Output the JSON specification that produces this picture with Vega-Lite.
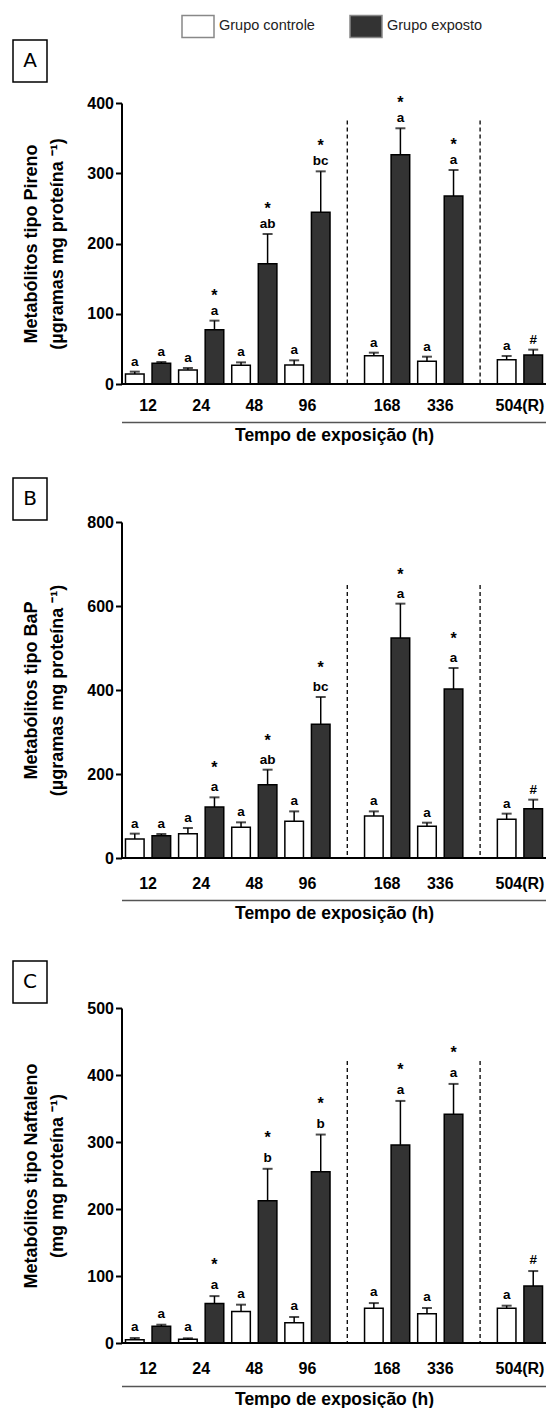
{
  "$schema": "https://vega.github.io/schema/vega-lite/v6.json",
  "padding": {"left": 12, "top": 9, "right": 0, "bottom": 0},
  "config": {
    "view": {"stroke": null},
    "font": "Liberation Sans",
    "axis": {"grid": false, "domainColor": "black", "tickColor": "black", "labelColor": "black", "titleColor": "black", "labelFont": "Liberation Sans", "titleFont": "Liberation Sans", "labelFontWeight": "bold", "titleFontWeight": "bold", "labelFontSize": 16}
  },
  "datasets": {
    "A": [
      {"slot": "12|c", "grupo": "Grupo controle", "media": 14.2, "sup": 17.6, "letra": "a", "sinal": ""},
      {"slot": "12|e", "grupo": "Grupo exposto", "media": 29.4, "sup": 31.3, "letra": "a", "sinal": ""},
      {"slot": "24|c", "grupo": "Grupo controle", "media": 19.9, "sup": 22.8, "letra": "a", "sinal": ""},
      {"slot": "24|e", "grupo": "Grupo exposto", "media": 77.3, "sup": 90.2, "letra": "a", "sinal": "*"},
      {"slot": "48|c", "grupo": "Grupo controle", "media": 26.6, "sup": 30.8, "letra": "a", "sinal": ""},
      {"slot": "48|e", "grupo": "Grupo exposto", "media": 171.3, "sup": 213.5, "letra": "ab", "sinal": "*"},
      {"slot": "96|c", "grupo": "Grupo controle", "media": 27, "sup": 33.7, "letra": "a", "sinal": ""},
      {"slot": "96|e", "grupo": "Grupo exposto", "media": 244.4, "sup": 302.7, "letra": "bc", "sinal": "*"},
      {"slot": "168|c", "grupo": "Grupo controle", "media": 40.3, "sup": 44.6, "letra": "a", "sinal": ""},
      {"slot": "168|e", "grupo": "Grupo exposto", "media": 326.5, "sup": 364, "letra": "a", "sinal": "*"},
      {"slot": "336|c", "grupo": "Grupo controle", "media": 32.3, "sup": 38.9, "letra": "a", "sinal": ""},
      {"slot": "336|e", "grupo": "Grupo exposto", "media": 267.6, "sup": 304.6, "letra": "a", "sinal": "*"},
      {"slot": "504(R)|c", "grupo": "Grupo controle", "media": 34.6, "sup": 39.9, "letra": "a", "sinal": ""},
      {"slot": "504(R)|e", "grupo": "Grupo exposto", "media": 41.3, "sup": 48.9, "letra": "#", "sinal": ""}
    ],
    "B": [
      {"slot": "12|c", "grupo": "Grupo controle", "media": 45.2, "sup": 58, "letra": "a", "sinal": ""},
      {"slot": "12|e", "grupo": "Grupo exposto", "media": 53.2, "sup": 57.1, "letra": "a", "sinal": ""},
      {"slot": "24|c", "grupo": "Grupo controle", "media": 58, "sup": 71.4, "letra": "a", "sinal": ""},
      {"slot": "24|e", "grupo": "Grupo exposto", "media": 121.4, "sup": 144.4, "letra": "a", "sinal": "*"},
      {"slot": "48|c", "grupo": "Grupo controle", "media": 73, "sup": 84.9, "letra": "a", "sinal": ""},
      {"slot": "48|e", "grupo": "Grupo exposto", "media": 174.6, "sup": 210.3, "letra": "ab", "sinal": "*"},
      {"slot": "96|c", "grupo": "Grupo controle", "media": 87.3, "sup": 111, "letra": "a", "sinal": ""},
      {"slot": "96|e", "grupo": "Grupo exposto", "media": 318.3, "sup": 383.3, "letra": "bc", "sinal": "*"},
      {"slot": "168|c", "grupo": "Grupo controle", "media": 100, "sup": 111, "letra": "a", "sinal": ""},
      {"slot": "168|e", "grupo": "Grupo exposto", "media": 523.8, "sup": 605.6, "letra": "a", "sinal": "*"},
      {"slot": "336|c", "grupo": "Grupo controle", "media": 75.4, "sup": 84.1, "letra": "a", "sinal": ""},
      {"slot": "336|e", "grupo": "Grupo exposto", "media": 402.4, "sup": 452.4, "letra": "a", "sinal": "*"},
      {"slot": "504(R)|c", "grupo": "Grupo controle", "media": 92, "sup": 105.6, "letra": "a", "sinal": ""},
      {"slot": "504(R)|e", "grupo": "Grupo exposto", "media": 117.5, "sup": 138.9, "letra": "#", "sinal": ""}
    ],
    "C": [
      {"slot": "12|c", "grupo": "Grupo controle", "media": 5, "sup": 7.5, "letra": "a", "sinal": ""},
      {"slot": "12|e", "grupo": "Grupo exposto", "media": 24.9, "sup": 27.3, "letra": "a", "sinal": ""},
      {"slot": "24|c", "grupo": "Grupo controle", "media": 5.5, "sup": 7, "letra": "a", "sinal": ""},
      {"slot": "24|e", "grupo": "Grupo exposto", "media": 59.1, "sup": 70, "letra": "a", "sinal": "*"},
      {"slot": "48|c", "grupo": "Grupo controle", "media": 47.2, "sup": 57.2, "letra": "a", "sinal": ""},
      {"slot": "48|e", "grupo": "Grupo exposto", "media": 212.2, "sup": 260, "letra": "b", "sinal": "*"},
      {"slot": "96|c", "grupo": "Grupo controle", "media": 30.3, "sup": 38.8, "letra": "a", "sinal": ""},
      {"slot": "96|e", "grupo": "Grupo exposto", "media": 255.5, "sup": 311.1, "letra": "b", "sinal": "*"},
      {"slot": "168|c", "grupo": "Grupo controle", "media": 51.7, "sup": 59.6, "letra": "a", "sinal": ""},
      {"slot": "168|e", "grupo": "Grupo exposto", "media": 295.7, "sup": 361.3, "letra": "a", "sinal": "*"},
      {"slot": "336|c", "grupo": "Grupo controle", "media": 43.7, "sup": 52.2, "letra": "a", "sinal": ""},
      {"slot": "336|e", "grupo": "Grupo exposto", "media": 341.4, "sup": 386.7, "letra": "a", "sinal": "*"},
      {"slot": "504(R)|c", "grupo": "Grupo controle", "media": 51.7, "sup": 55.7, "letra": "a", "sinal": ""},
      {"slot": "504(R)|e", "grupo": "Grupo exposto", "media": 85, "sup": 107.4, "letra": "#", "sinal": ""}
    ],
    "sepA": [{"slot": "s1", "topo": 375}, {"slot": "s2", "topo": 375}],
    "sepB": [{"slot": "s1", "topo": 650}, {"slot": "s2", "topo": 650}],
    "sepC": [{"slot": "s1", "topo": 421}, {"slot": "s2", "topo": 421}],
    "vazio": [{}]
  },
  "concat": [
    {
      "width": 34, "height": 42,
      "view": {"stroke": "black", "strokeWidth": 1.5},
      "data": {"values": [{"letra": "A"}]},
      "mark": {"type": "text", "font": "DejaVu Sans", "fontSize": 20, "baseline": "middle", "align": "center", "color": "black"},
      "encoding": {"text": {"field": "letra"}}
    },
    {"width": 1, "height": 62.3, "data": {"name": "vazio"}, "mark": "text", "encoding": {"text": {"value": ""}}},
    {"width": 1, "height": 374.7, "data": {"name": "vazio"}, "mark": "text", "encoding": {"text": {"value": ""}}},
    {
      "width": 425, "height": 281,
      "data": {"name": "A"},
      "layer": [
        {
          "mark": {"type": "bar", "stroke": "black", "strokeWidth": 1.5},
          "encoding": {
            "x": {"field": "slot", "type": "nominal", "sort": null,
              "scale": {"domain": ["12|c","12|e","24|c","24|e","48|c","48|e","96|c","96|e","s1","168|c","168|e","336|c","336|e","s2","504(R)|c","504(R)|e"], "paddingInner": 0.3, "paddingOuter": 0.15},
              "axis": {"title": "Tempo de exposição (h)", "orient": "bottom", "offset": 38, "domainColor": "#555", "domainWidth": 1.5, "ticks": false, "tickSize": 0, "labelPadding": -16.5, "labelBaseline": "middle", "labelAlign": "center", "labelOffset": 13.28, "labelAngle": 0, "labelOverlap": false, "labelExpr": "indexof(datum.value, '|c') > 0 ? split(datum.value, '|')[0] : ''", "titleFontSize": 17.5, "titlePadding": 4}},
            "y": {"field": "media", "type": "quantitative", "scale": {"domain": [0, 400], "nice": false},
              "axis": {"values": [0, 100, 200, 300, 400], "title": ["Metabólitos tipo Pireno", "(µgramas mg proteína ⁻¹)"], "titleFontSize": 18, "titleLineHeight": 26, "titlePadding": 20, "tickSize": 6, "tickWidth": 2, "domainWidth": 2, "labelPadding": 2}},
            "fill": {"field": "grupo", "type": "nominal", "scale": {"domain": ["Grupo controle", "Grupo exposto"], "range": ["white", "#333333"]},
              "legend": {"title": null, "orient": "none", "legendX": 168, "legendY": -31, "direction": "horizontal", "symbolType": "M-1,-0.69H1V0.69H-1Z", "symbolSize": 1024, "symbolStrokeColor": "#888", "symbolStrokeWidth": 1.5, "labelFont": "Liberation Sans", "labelFontSize": 14.5, "labelColor": "#222", "labelOffset": 4, "columnPadding": 32, "padding": 0}}
          }
        },
        {
          "mark": {"type": "rule", "color": "black", "strokeWidth": 2},
          "encoding": {"y": {"datum": 0, "scale": {"domain": [0, 400], "nice": false}}}
        },
        {
          "data": {"name": "sepA"},
          "mark": {"type": "rule", "color": "black", "strokeWidth": 1.3, "strokeDash": [4, 3]},
          "encoding": {
            "x": {"field": "slot", "type": "nominal", "sort": null, "scale": {"domain": ["12|c","12|e","24|c","24|e","48|c","48|e","96|c","96|e","s1","168|c","168|e","336|c","336|e","s2","504(R)|c","504(R)|e"], "paddingInner": 0.3, "paddingOuter": 0.15}},
            "y": {"field": "topo", "type": "quantitative", "scale": {"domain": [0, 400], "nice": false}},
            "y2": {"datum": 0}
          }
        },
        {
          "mark": {"type": "rule", "color": "black", "strokeWidth": 1.5},
          "encoding": {
            "x": {"field": "slot", "type": "nominal", "sort": null, "scale": {"domain": ["12|c","12|e","24|c","24|e","48|c","48|e","96|c","96|e","s1","168|c","168|e","336|c","336|e","s2","504(R)|c","504(R)|e"], "paddingInner": 0.3, "paddingOuter": 0.15}},
            "y": {"field": "sup", "type": "quantitative", "scale": {"domain": [0, 400], "nice": false}},
            "y2": {"field": "media"}
          }
        },
        {
          "mark": {"type": "tick", "color": "black", "thickness": 2, "size": 10},
          "encoding": {
            "x": {"field": "slot", "type": "nominal", "sort": null, "scale": {"domain": ["12|c","12|e","24|c","24|e","48|c","48|e","96|c","96|e","s1","168|c","168|e","336|c","336|e","s2","504(R)|c","504(R)|e"], "paddingInner": 0.3, "paddingOuter": 0.15}},
            "y": {"field": "sup", "type": "quantitative", "scale": {"domain": [0, 400], "nice": false}}
          }
        },
        {
          "mark": {"type": "text", "font": "Liberation Sans", "fontWeight": "bold", "fontSize": 13.5, "baseline": "alphabetic", "dy": -6, "color": "black"},
          "encoding": {
            "x": {"field": "slot", "type": "nominal", "sort": null, "scale": {"domain": ["12|c","12|e","24|c","24|e","48|c","48|e","96|c","96|e","s1","168|c","168|e","336|c","336|e","s2","504(R)|c","504(R)|e"], "paddingInner": 0.3, "paddingOuter": 0.15}},
            "y": {"field": "sup", "type": "quantitative", "scale": {"domain": [0, 400], "nice": false}},
            "text": {"field": "letra"}
          }
        },
        {
          "mark": {"type": "text", "font": "Liberation Sans", "fontWeight": "bold", "fontSize": 16, "baseline": "alphabetic", "dy": -20, "color": "black"},
          "encoding": {
            "x": {"field": "slot", "type": "nominal", "sort": null, "scale": {"domain": ["12|c","12|e","24|c","24|e","48|c","48|e","96|c","96|e","s1","168|c","168|e","336|c","336|e","s2","504(R)|c","504(R)|e"], "paddingInner": 0.3, "paddingOuter": 0.15}},
            "y": {"field": "sup", "type": "quantitative", "scale": {"domain": [0, 400], "nice": false}},
            "text": {"field": "sinal"}
          }
        }
      ]
    },
    {
      "width": 34, "height": 42,
      "view": {"stroke": "black", "strokeWidth": 1.5},
      "data": {"values": [{"letra": "B"}]},
      "mark": {"type": "text", "font": "DejaVu Sans", "fontSize": 20, "baseline": "middle", "align": "center", "color": "black"},
      "encoding": {"text": {"field": "letra"}}
    },
    {"width": 1, "height": 43.7, "data": {"name": "vazio"}, "mark": "text", "encoding": {"text": {"value": ""}}},
    {"width": 1, "height": 438.9, "data": {"name": "vazio"}, "mark": "text", "encoding": {"text": {"value": ""}}},
    {
      "width": 425, "height": 336,
      "data": {"name": "B"},
      "layer": [
        {
          "mark": {"type": "bar", "stroke": "black", "strokeWidth": 1.5},
          "encoding": {
            "x": {"field": "slot", "type": "nominal", "sort": null,
              "scale": {"domain": ["12|c","12|e","24|c","24|e","48|c","48|e","96|c","96|e","s1","168|c","168|e","336|c","336|e","s2","504(R)|c","504(R)|e"], "paddingInner": 0.3, "paddingOuter": 0.15},
              "axis": {"title": "Tempo de exposição (h)", "orient": "bottom", "offset": 42, "domainColor": "#555", "domainWidth": 1.5, "ticks": false, "tickSize": 0, "labelPadding": -17, "labelBaseline": "middle", "labelAlign": "center", "labelOffset": 13.28, "labelAngle": 0, "labelOverlap": false, "labelExpr": "indexof(datum.value, '|c') > 0 ? split(datum.value, '|')[0] : ''", "titleFontSize": 17.5, "titlePadding": 4}},
            "y": {"field": "media", "type": "quantitative", "scale": {"domain": [0, 800], "nice": false},
              "axis": {"values": [0, 200, 400, 600, 800], "title": ["Metabólitos tipo BaP", "(µgramas mg proteína ⁻¹)"], "titleFontSize": 18, "titleLineHeight": 26, "titlePadding": 20, "tickSize": 6, "tickWidth": 2, "domainWidth": 2, "labelPadding": 2}},
            "fill": {"field": "grupo", "type": "nominal", "scale": {"domain": ["Grupo controle", "Grupo exposto"], "range": ["white", "#333333"]},
              "legend": {"title": null, "orient": "none", "legendX": 168, "legendY": -31, "direction": "horizontal", "symbolType": "M-1,-0.69H1V0.69H-1Z", "symbolSize": 1024, "symbolStrokeColor": "#888", "symbolStrokeWidth": 1.5, "labelFont": "Liberation Sans", "labelFontSize": 14.5, "labelColor": "#222", "labelOffset": 4, "columnPadding": 32, "padding": 0}}
          }
        },
        {
          "mark": {"type": "rule", "color": "black", "strokeWidth": 2},
          "encoding": {"y": {"datum": 0, "scale": {"domain": [0, 800], "nice": false}}}
        },
        {
          "data": {"name": "sepB"},
          "mark": {"type": "rule", "color": "black", "strokeWidth": 1.3, "strokeDash": [4, 3]},
          "encoding": {
            "x": {"field": "slot", "type": "nominal", "sort": null, "scale": {"domain": ["12|c","12|e","24|c","24|e","48|c","48|e","96|c","96|e","s1","168|c","168|e","336|c","336|e","s2","504(R)|c","504(R)|e"], "paddingInner": 0.3, "paddingOuter": 0.15}},
            "y": {"field": "topo", "type": "quantitative", "scale": {"domain": [0, 800], "nice": false}},
            "y2": {"datum": 0}
          }
        },
        {
          "mark": {"type": "rule", "color": "black", "strokeWidth": 1.5},
          "encoding": {
            "x": {"field": "slot", "type": "nominal", "sort": null, "scale": {"domain": ["12|c","12|e","24|c","24|e","48|c","48|e","96|c","96|e","s1","168|c","168|e","336|c","336|e","s2","504(R)|c","504(R)|e"], "paddingInner": 0.3, "paddingOuter": 0.15}},
            "y": {"field": "sup", "type": "quantitative", "scale": {"domain": [0, 800], "nice": false}},
            "y2": {"field": "media"}
          }
        },
        {
          "mark": {"type": "tick", "color": "black", "thickness": 2, "size": 10},
          "encoding": {
            "x": {"field": "slot", "type": "nominal", "sort": null, "scale": {"domain": ["12|c","12|e","24|c","24|e","48|c","48|e","96|c","96|e","s1","168|c","168|e","336|c","336|e","s2","504(R)|c","504(R)|e"], "paddingInner": 0.3, "paddingOuter": 0.15}},
            "y": {"field": "sup", "type": "quantitative", "scale": {"domain": [0, 800], "nice": false}}
          }
        },
        {
          "mark": {"type": "text", "font": "Liberation Sans", "fontWeight": "bold", "fontSize": 13.5, "baseline": "alphabetic", "dy": -6, "color": "black"},
          "encoding": {
            "x": {"field": "slot", "type": "nominal", "sort": null, "scale": {"domain": ["12|c","12|e","24|c","24|e","48|c","48|e","96|c","96|e","s1","168|c","168|e","336|c","336|e","s2","504(R)|c","504(R)|e"], "paddingInner": 0.3, "paddingOuter": 0.15}},
            "y": {"field": "sup", "type": "quantitative", "scale": {"domain": [0, 800], "nice": false}},
            "text": {"field": "letra"}
          }
        },
        {
          "mark": {"type": "text", "font": "Liberation Sans", "fontWeight": "bold", "fontSize": 16, "baseline": "alphabetic", "dy": -24, "color": "black"},
          "encoding": {
            "x": {"field": "slot", "type": "nominal", "sort": null, "scale": {"domain": ["12|c","12|e","24|c","24|e","48|c","48|e","96|c","96|e","s1","168|c","168|e","336|c","336|e","s2","504(R)|c","504(R)|e"], "paddingInner": 0.3, "paddingOuter": 0.15}},
            "y": {"field": "sup", "type": "quantitative", "scale": {"domain": [0, 800], "nice": false}},
            "text": {"field": "sinal"}
          }
        }
      ]
    },
    {
      "width": 34, "height": 42,
      "view": {"stroke": "black", "strokeWidth": 1.5},
      "data": {"values": [{"letra": "C"}]},
      "mark": {"type": "text", "font": "DejaVu Sans", "fontSize": 20, "baseline": "middle", "align": "center", "color": "black"},
      "encoding": {"text": {"field": "letra"}}
    },
    {"width": 1, "height": 46.1, "data": {"name": "vazio"}, "mark": "text", "encoding": {"text": {"value": ""}}},
    {"width": 1, "height": 1, "data": {"name": "vazio"}, "mark": "text", "encoding": {"text": {"value": ""}}},
    {
      "width": 425, "height": 335,
      "data": {"name": "C"},
      "layer": [
        {
          "mark": {"type": "bar", "stroke": "black", "strokeWidth": 1.5},
          "encoding": {
            "x": {"field": "slot", "type": "nominal", "sort": null,
              "scale": {"domain": ["12|c","12|e","24|c","24|e","48|c","48|e","96|c","96|e","s1","168|c","168|e","336|c","336|e","s2","504(R)|c","504(R)|e"], "paddingInner": 0.3, "paddingOuter": 0.15},
              "axis": {"title": "Tempo de exposição (h)", "orient": "bottom", "offset": 43, "domainColor": "#555", "domainWidth": 1.5, "ticks": false, "tickSize": 0, "labelPadding": -17.5, "labelBaseline": "middle", "labelAlign": "center", "labelOffset": 13.28, "labelAngle": 0, "labelOverlap": false, "labelExpr": "indexof(datum.value, '|c') > 0 ? split(datum.value, '|')[0] : ''", "titleFontSize": 17.5, "titlePadding": 4}},
            "y": {"field": "media", "type": "quantitative", "scale": {"domain": [0, 500], "nice": false},
              "axis": {"values": [0, 100, 200, 300, 400, 500], "title": ["Metabólitos tipo Naftaleno", "(mg mg proteína ⁻¹)"], "titleFontSize": 18, "titleLineHeight": 26, "titlePadding": 20, "tickSize": 6, "tickWidth": 2, "domainWidth": 2, "labelPadding": 2}},
            "fill": {"field": "grupo", "type": "nominal", "scale": {"domain": ["Grupo controle", "Grupo exposto"], "range": ["white", "#333333"]},
              "legend": {"title": null, "orient": "none", "legendX": 168, "legendY": -31, "direction": "horizontal", "symbolType": "M-1,-0.69H1V0.69H-1Z", "symbolSize": 1024, "symbolStrokeColor": "#888", "symbolStrokeWidth": 1.5, "labelFont": "Liberation Sans", "labelFontSize": 14.5, "labelColor": "#222", "labelOffset": 4, "columnPadding": 32, "padding": 0}}
          }
        },
        {
          "mark": {"type": "rule", "color": "black", "strokeWidth": 2},
          "encoding": {"y": {"datum": 0, "scale": {"domain": [0, 500], "nice": false}}}
        },
        {
          "data": {"name": "sepC"},
          "mark": {"type": "rule", "color": "black", "strokeWidth": 1.3, "strokeDash": [4, 3]},
          "encoding": {
            "x": {"field": "slot", "type": "nominal", "sort": null, "scale": {"domain": ["12|c","12|e","24|c","24|e","48|c","48|e","96|c","96|e","s1","168|c","168|e","336|c","336|e","s2","504(R)|c","504(R)|e"], "paddingInner": 0.3, "paddingOuter": 0.15}},
            "y": {"field": "topo", "type": "quantitative", "scale": {"domain": [0, 500], "nice": false}},
            "y2": {"datum": 0}
          }
        },
        {
          "mark": {"type": "rule", "color": "black", "strokeWidth": 1.5},
          "encoding": {
            "x": {"field": "slot", "type": "nominal", "sort": null, "scale": {"domain": ["12|c","12|e","24|c","24|e","48|c","48|e","96|c","96|e","s1","168|c","168|e","336|c","336|e","s2","504(R)|c","504(R)|e"], "paddingInner": 0.3, "paddingOuter": 0.15}},
            "y": {"field": "sup", "type": "quantitative", "scale": {"domain": [0, 500], "nice": false}},
            "y2": {"field": "media"}
          }
        },
        {
          "mark": {"type": "tick", "color": "black", "thickness": 2, "size": 10},
          "encoding": {
            "x": {"field": "slot", "type": "nominal", "sort": null, "scale": {"domain": ["12|c","12|e","24|c","24|e","48|c","48|e","96|c","96|e","s1","168|c","168|e","336|c","336|e","s2","504(R)|c","504(R)|e"], "paddingInner": 0.3, "paddingOuter": 0.15}},
            "y": {"field": "sup", "type": "quantitative", "scale": {"domain": [0, 500], "nice": false}}
          }
        },
        {
          "mark": {"type": "text", "font": "Liberation Sans", "fontWeight": "bold", "fontSize": 13.5, "baseline": "alphabetic", "dy": -7, "color": "black"},
          "encoding": {
            "x": {"field": "slot", "type": "nominal", "sort": null, "scale": {"domain": ["12|c","12|e","24|c","24|e","48|c","48|e","96|c","96|e","s1","168|c","168|e","336|c","336|e","s2","504(R)|c","504(R)|e"], "paddingInner": 0.3, "paddingOuter": 0.15}},
            "y": {"field": "sup", "type": "quantitative", "scale": {"domain": [0, 500], "nice": false}},
            "text": {"field": "letra"}
          }
        },
        {
          "mark": {"type": "text", "font": "Liberation Sans", "fontWeight": "bold", "fontSize": 16, "baseline": "alphabetic", "dy": -26, "color": "black"},
          "encoding": {
            "x": {"field": "slot", "type": "nominal", "sort": null, "scale": {"domain": ["12|c","12|e","24|c","24|e","48|c","48|e","96|c","96|e","s1","168|c","168|e","336|c","336|e","s2","504(R)|c","504(R)|e"], "paddingInner": 0.3, "paddingOuter": 0.15}},
            "y": {"field": "sup", "type": "quantitative", "scale": {"domain": [0, 500], "nice": false}},
            "text": {"field": "sinal"}
          }
        }
      ]
    }
  ],
  "columns": 2, "align": "each", "bounds": "flush", "spacing": {"row": 0, "column": 74.5}
}
